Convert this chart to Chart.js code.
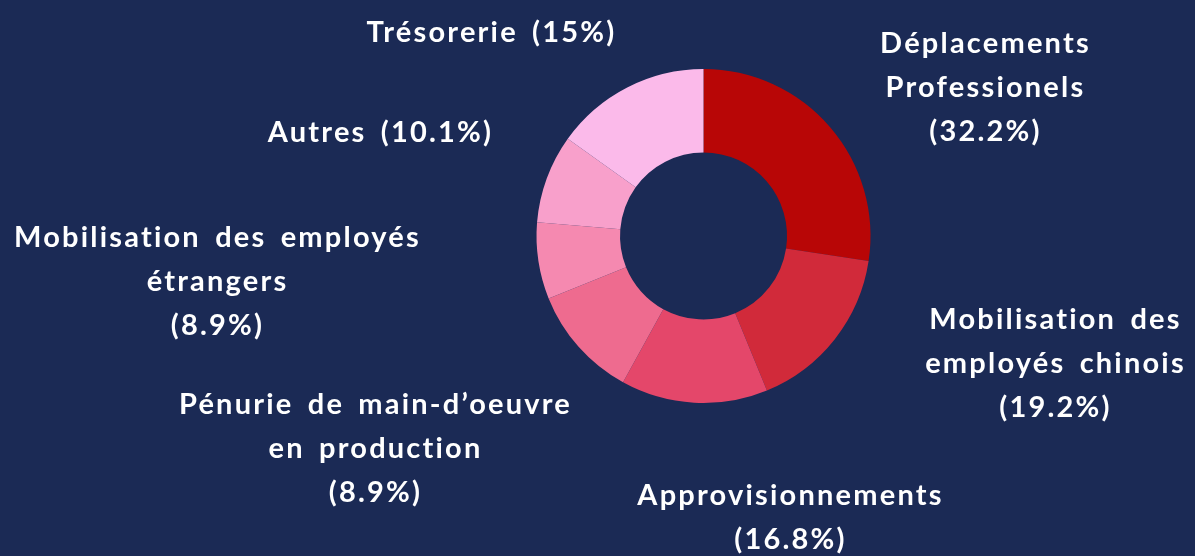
<!DOCTYPE html>
<html>
<head>
<meta charset="utf-8">
<script src="https://cdn.jsdelivr.net/npm/chart.js@4/dist/chart.umd.min.js"></script>
<style>
  html, body { margin: 0; padding: 0; background: #1b2a55; }
  #wrap { width: 1195px; height: 556px; position: relative; }
</style>
</head>
<body>
<div id="wrap"><canvas id="myChart"></canvas></div>
<script>
  // categories, slice sizes and the printed percentages
  const categories = [
    "Déplacements Professionels",
    "Mobilisation des employés chinois",
    "Approvisionnements",
    "Pénurie de main-d’oeuvre en production",
    "Mobilisation des employés étrangers",
    "Autres",
    "Trésorerie"
  ];
  const sliceValues = [27.4, 16.4, 14.2, 10.9, 7.4, 8.6, 15.1];
  const shownPercents = ["32.2%", "19.2%", "16.8%", "8.9%", "8.9%", "10.1%", "15%"];
  const sliceColors = ["#b80606", "#d12a3a", "#e4476a", "#ee6b8f", "#f589b0", "#f8a0cb", "#fbbaea"];

  // how each label is broken into lines, and where it sits relative to the ring centre
  const labelLines = [
    ["Déplacements", "Professionels", "(" + shownPercents[0] + ")"],
    ["Mobilisation des", "employés chinois", "(" + shownPercents[1] + ")"],
    ["Approvisionnements", "(" + shownPercents[2] + ")"],
    ["Pénurie de main-d’oeuvre", "en production", "(" + shownPercents[3] + ")"],
    ["Mobilisation des employés", "étrangers", "(" + shownPercents[4] + ")"],
    ["Autres (" + shownPercents[5] + ")"],
    ["Trésorerie (" + shownPercents[6] + ")"]
  ];
  const labelOffsets = [
    [282, -192], [352, 84], [87, 260], [-328, 169], [-486, 2], [-323, -103], [-212, -203]
  ];

  const outsideLabels = {
    id: 'outsideLabels',
    afterDraw(chart) {
      const ctx = chart.ctx;
      const arc = chart.getDatasetMeta(0).data[0];
      const cx = arc.x, cy = arc.y;
      ctx.save();
      ctx.fillStyle = '#ffffff';
      ctx.font = 'bold 29px Lato';
      ctx.letterSpacing = '2.2px';
      ctx.wordSpacing = '5px';
      ctx.textAlign = 'center';
      ctx.textBaseline = 'middle';
      labelLines.forEach((lines, i) => {
        const x = cx + labelOffsets[i][0];
        const y = cy + labelOffsets[i][1];
        lines.forEach((t, j) => {
          ctx.fillText(t, x, y + j * 44);
        });
      });
      ctx.restore();
    }
  };

  const ctx = document.getElementById('myChart').getContext('2d');
  const myChart = new Chart(ctx, {
    type: 'doughnut',
    data: {
      labels: categories,
      datasets: [{
        data: sliceValues,
        backgroundColor: sliceColors,
        borderWidth: 0
      }]
    },
    options: {
      responsive: true,
      maintainAspectRatio: false,
      animation: false,
      cutout: '50%',
      layout: {
        padding: { left: 536, right: 324, top: 69, bottom: 153 }
      },
      plugins: {
        legend: { display: false },
        tooltip: { enabled: false }
      }
    },
    plugins: [outsideLabels]
  });
</script>
</body>
</html>
